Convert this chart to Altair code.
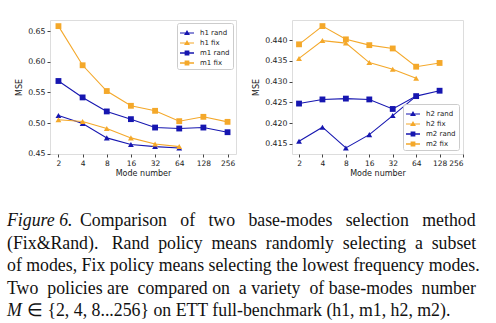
import altair as alt
import pandas as pd

# ---------------- data ----------------
modes = [2, 4, 8, 16, 32, 64, 128, 256]

left_names = ["h1 rand", "h1 fix", "m1 rand", "m1 fix"]
h1_rand = [0.5123, 0.4992, 0.4757, 0.4648, 0.4615, 0.4593]
h1_fix = [0.5052, 0.5025, 0.4910, 0.4757, 0.4658, 0.4615]
m1_rand = [0.5686, 0.5418, 0.5189, 0.5063, 0.4926, 0.4910, 0.4926, 0.4850]
m1_fix = [0.6582, 0.5943, 0.5522, 0.5281, 0.5199, 0.5030, 0.5101, 0.5019]

right_names = ["h2 rand", "h2 fix", "m2 rand", "m2 fix"]
h2_rand = [0.4156, 0.4190, 0.4140, 0.4172, 0.4218, 0.4265]
h2_fix = [0.4356, 0.4399, 0.4393, 0.4346, 0.4330, 0.4308]
m2_rand = [0.4247, 0.4257, 0.4259, 0.4257, 0.4234, 0.4265, 0.4278]
m2_fix = [0.4390, 0.4434, 0.4402, 0.4388, 0.4380, 0.4336, 0.4345]

left_ticks = [0.45, 0.50, 0.55, 0.60, 0.65]
right_ticks = [0.415, 0.420, 0.425, 0.430, 0.435, 0.440]

NB = "\u00a0"
caption_italic = ["Figure 6.", "M"]
caption_line0 = [(NB * 3).join(["Comparison", "of", "two", "base-modes", "selection", "method"])]
caption_mid = [
    "(Fix&Rand)." + NB * 3 + (NB * 2).join(["Rand", "policy", "means", "randomly", "selecting", "a", "subset"]),
    "of modes, Fix policy means selecting the lowest frequency modes.",
    "Two" + NB * 2 + "policies are" + NB * 2 + "compared on" + NB * 2 + "a variety"
    + NB * 2 + "of base-modes" + NB * 2 + "number",
]
caption_last = ["\u2208 {2, 4, 8...256} on ETT full-benchmark (h1, m1, h2, m2)."]

BLUE = "#1616B0"
ORANGE = "#F4A82A"
FONT = "DejaVu Sans"
SERIF = "Liberation Serif"
CAP_SIZE = 17.8

def long_df(names, series):
    rows = []
    for n, vals in zip(names, series):
        for m, v in zip(modes, vals):
            rows.append({"mode": m, "mse": v, "series": n})
    return pd.DataFrame(rows)

def line_path(half):
    return "M-1,-%s H1 V%s H-1 Z " % (half, half)

tri = "M0,-0.42 L0.42,0.3 L-0.42,0.3 Z"
sq = "M-0.34,-0.34 H0.34 V0.34 H-0.34 Z"
legend_paths = [line_path(0.07) + tri, line_path(0.07) + tri,
                line_path(0.11) + sq, line_path(0.11) + sq]

def panel(names, series, xdom, ydom, yticks, yfmt, legend_orient, legend_offset, w, h):
    df = long_df(names, series)
    base = alt.Chart(df)
    x = alt.X("mode:Q", scale=alt.Scale(type="log", base=2, domain=xdom, nice=False, zero=False),
              axis=alt.Axis(values=modes, format="d", title="Mode number", grid=False,
                            domain=False, tickColor="#444", tickSize=3, labelPadding=2,
                            labelFontSize=7.5, titleFontSize=8, titleFontWeight="normal",
                            titlePadding=3, labelColor="#222", titleColor="#222",
                            labelFont=FONT, titleFont=FONT))
    y = alt.Y("mse:Q", scale=alt.Scale(domain=ydom, nice=False, zero=False),
              axis=alt.Axis(values=yticks, format=yfmt, title="MSE", grid=False,
                            domain=False, tickColor="#444", tickSize=3, labelPadding=2,
                            labelFontSize=7.8, titleFontSize=8, titleFontWeight="normal",
                            titlePadding=4, labelColor="#222", titleColor="#222",
                            labelFont=FONT, titleFont=FONT))
    cscale = alt.Scale(domain=names, range=[BLUE, ORANGE, BLUE, ORANGE])
    lines = base.mark_line().encode(
        x=x, y=y,
        color=alt.Color("series:N", scale=cscale, legend=None),
        strokeWidth=alt.StrokeWidth("series:N", scale=alt.Scale(domain=names, range=[1.1, 1.1, 1.7, 1.7]), legend=None),
    )
    points = base.mark_point(filled=True, opacity=1).encode(
        x=x, y=y,
        color=alt.Color("series:N", scale=cscale, legend=None),
        shape=alt.Shape("series:N", scale=alt.Scale(domain=names, range=["triangle-up", "triangle-up", "square", "square"]), legend=None),
        size=alt.Size("series:N", scale=alt.Scale(domain=names, range=[34, 34, 34, 34]), legend=None),
    )
    leg = alt.Legend(title=None, orient=legend_orient, offset=legend_offset, symbolSize=196,
                     symbolStrokeWidth=0, labelFontSize=7, labelFont=FONT, labelColor="#222",
                     padding=3, rowPadding=-4, labelOffset=6, strokeColor="#cccccc",
                     fillColor="rgba(255,255,255,0.85)", cornerRadius=2, symbolOpacity=1)
    legend_layer = base.transform_filter("false").mark_point(filled=True, opacity=1).encode(
        x=x, y=y,
        color=alt.Color("series:N", scale=alt.Scale(domain=names, range=[BLUE, ORANGE, BLUE, ORANGE]), legend=leg),
        shape=alt.Shape("series:N", scale=alt.Scale(domain=names, range=legend_paths), legend=leg),
    )
    return alt.layer(lines, points, legend_layer).resolve_scale(
        color="independent", shape="independent", size="independent", strokeWidth="independent"
    ).properties(width=w, height=h)

left = panel(left_names, [h1_rand, h1_fix, m1_rand, m1_fix],
             [2 ** 0.65, 2 ** 8.35], [0.4494, 0.6682], left_ticks, ".2f", "top-right", 3, 186, 134)
right = panel(right_names, [h2_rand, h2_fix, m2_rand, m2_fix],
              [2 ** 0.7, 2 ** 8.0], [0.41253, 0.44487], right_ticks, ".3f", "bottom-right", 4, 171, 134)

top = alt.hconcat(left, right, spacing=15)

# ---------------- caption ----------------
SHIFT = -43  # caption starts left of the first panel's plot area
ypos = alt.Y("line:O", axis=None, scale=alt.Scale(domain=list(range(5)), range=[0, 90.3], padding=0))
def cap_text(lines, texts, dx, italic=False):
    kw = dict(align="left", baseline="alphabetic", font=SERIF, fontSize=CAP_SIZE, color="#111", dx=dx)
    if italic:
        kw["fontStyle"] = "italic"
    return alt.Chart(pd.DataFrame({"line": lines, "t": texts})).mark_text(**kw).encode(
        x=alt.value(0), y=ypos, text="t:N")

caption = alt.layer(
    cap_text([0, 4], caption_italic, SHIFT, italic=True),
    cap_text([0], caption_line0, SHIFT + 73),
    cap_text([1, 2, 3], caption_mid, SHIFT),
    cap_text([4], caption_last, SHIFT + 20),
).properties(width=380, height=90, view=alt.ViewBackground(strokeOpacity=0))

chart = alt.vconcat(top, caption, spacing=34).properties(
    padding={"left": 7, "top": 19, "right": 0, "bottom": 0}
).configure_view(stroke="#555", strokeWidth=1).configure(background="white")

chart.save("out.html", embed_options={"renderer": "svg", "actions": False})
